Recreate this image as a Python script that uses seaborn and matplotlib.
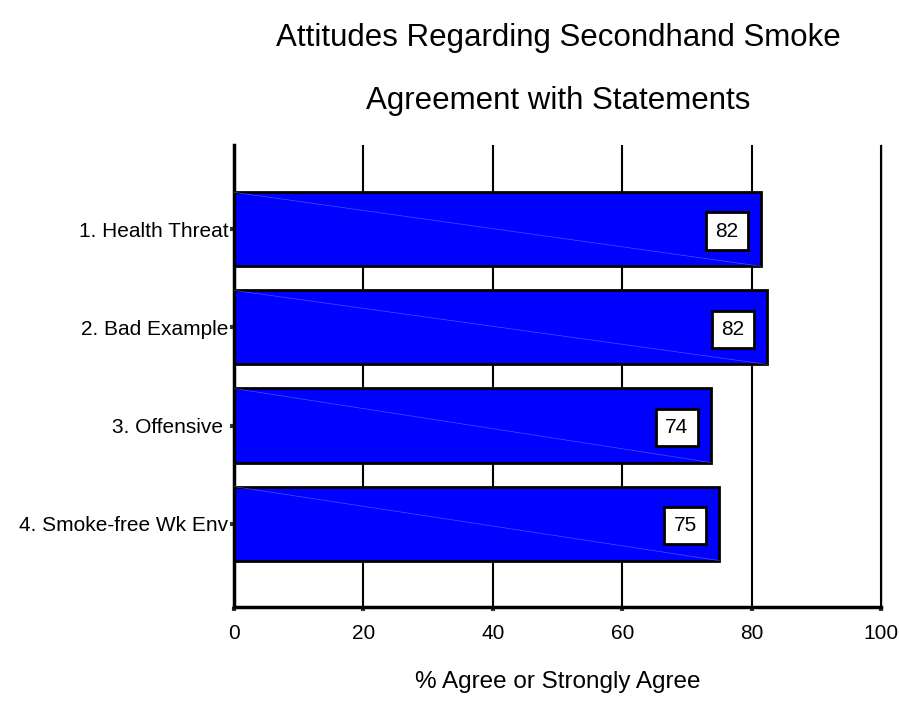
import numpy as np
import pandas as pd
import seaborn as sns
import matplotlib
matplotlib.use('Agg')
import matplotlib.pyplot as plt

# data
statements = ["1. Health Threat", "2. Bad Example", "3. Offensive ", "4. Smoke-free Wk Env"]
pct_agree = [81.5, 82.4, 73.7, 75.0]
x_ticks = [0, 20, 40, 60, 80, 100]

sns.set_theme(style="white")
plt.rcParams['font.family'] = ['Liberation Sans', 'DejaVu Sans']
plt.rcParams['text.color'] = 'black'
plt.rcParams['xtick.color'] = 'black'
plt.rcParams['ytick.color'] = 'black'

df = pd.DataFrame({"statement": statements, "pct": pct_agree})

fig = plt.figure(figsize=(9, 7.13), dpi=100)
ax = fig.add_axes([0.26, 0.1487, 0.719, 0.648])

sns.barplot(data=df, y="statement", x="pct", orient="h", color="#0000FF",
            saturation=1, edgecolor="black", linewidth=2, width=0.755, ax=ax)

# faint diagonal streak across each bar, as in the original
for p in ax.patches:
    x0, y0 = p.get_x(), p.get_y()
    ax.plot([x0, x0 + p.get_width()], [y0, y0 + p.get_height()],
            color="#8f9cff", lw=0.5, alpha=0.5, zorder=3)

# value labels in white boxes
for p, v in zip(ax.patches, pct_agree):
    yc = p.get_y() + p.get_height() / 2
    ax.text(v - 5.3, yc, f"{v:.0f}", ha="center", va="center_baseline",
            fontsize=15, zorder=5,
            bbox=dict(boxstyle="square,pad=0.45", facecolor="white",
                      edgecolor="black", linewidth=2))

ax.set_xlim(0, 100)
ax.set_ylim(3.85, -0.86)
ax.set_xticks(x_ticks)
ax.xaxis.grid(True, color="black", linewidth=1.5)
ax.set_axisbelow(True)

ax.spines["top"].set_visible(False)
ax.spines["right"].set_linewidth(1.0)
ax.spines["right"].set_color("black")
ax.spines["left"].set_linewidth(2.5)
ax.spines["left"].set_color("black")
ax.spines["bottom"].set_linewidth(2.5)
ax.spines["bottom"].set_color("black")

ax.tick_params(axis="x", bottom=True, length=3, width=3, color="#333333",
               labelsize=15, labelcolor="black", pad=9)
ax.tick_params(axis="y", left=True, length=3, width=3, color="#333333",
               labelsize=15, labelcolor="black", pad=1)
ax.set_xlabel("")
ax.set_ylabel("")

fig.text(0.62, 0.947, "Attitudes Regarding Secondhand Smoke", ha="center",
         va="center", fontsize=22.5, color="black")
fig.text(0.62, 0.858, "Agreement with Statements", ha="center",
         va="center", fontsize=22.5, color="black")
fig.text(0.62, 0.044, "% Agree or Strongly Agree", ha="center",
         va="center", fontsize=17.5, color="black")

plt.savefig("out.png", dpi=100)
